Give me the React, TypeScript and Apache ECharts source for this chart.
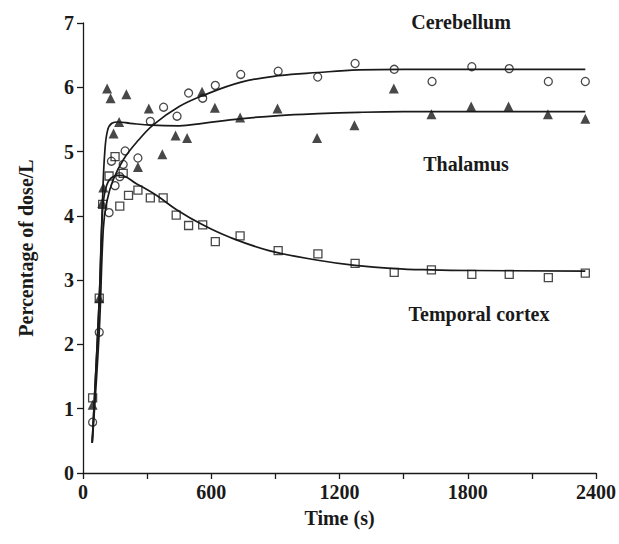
import { useEffect, useRef } from "react";
import * as echarts from "echarts";

// Measured points: [time (s), percentage of dose/L]
const cerebellumPoints: [number, number][] = [
  [45, 0.79], [76, 2.19], [122, 4.05], [133, 4.85], [150, 4.47], [172, 4.61],
  [188, 4.8], [197, 5.01], [257, 4.9], [315, 5.47], [377, 5.69], [440, 5.55],
  [494, 5.91], [560, 5.83], [619, 6.03], [738, 6.2], [913, 6.25], [1098, 6.16],
  [1273, 6.37], [1456, 6.28], [1633, 6.09], [1819, 6.32], [1994, 6.29],
  [2177, 6.09], [2350, 6.09],
];

const thalamusPoints: [number, number][] = [
  [45, 1.06], [76, 2.72], [90, 4.2], [95, 4.44], [113, 5.98], [129, 5.83],
  [143, 5.28], [169, 5.46], [203, 5.89], [257, 4.76], [308, 5.67], [371, 4.96],
  [433, 5.25], [487, 5.21], [557, 5.93], [617, 5.68], [735, 5.53], [910, 5.67],
  [1095, 5.21], [1270, 5.41], [1454, 5.98], [1630, 5.58], [1816, 5.7],
  [1991, 5.7], [2175, 5.58], [2350, 5.51],
];

const temporalPoints: [number, number][] = [
  [45, 1.17], [76, 2.72], [92, 4.18], [122, 4.62], [150, 4.92], [172, 4.15],
  [188, 4.66], [213, 4.32], [257, 4.4], [315, 4.28], [375, 4.28], [436, 4.01],
  [494, 3.85], [560, 3.86], [619, 3.6], [735, 3.69], [913, 3.46], [1099, 3.41],
  [1273, 3.26], [1456, 3.12], [1630, 3.16], [1819, 3.09], [1994, 3.09],
  [2177, 3.04], [2350, 3.11],
];

// Fitted model curves
const cerebellumFit: [number, number][] = [
  [43, 0.47], [76, 2.2], [95, 3.8], [110, 4.2], [140, 4.55], [190, 4.88],
  [260, 5.18], [330, 5.42], [450, 5.7], [560, 5.87], [740, 6.08], [916, 6.18],
  [1100, 6.23], [1290, 6.27], [1500, 6.28], [2350, 6.28],
];

const thalamusFit: [number, number][] = [
  [43, 0.47], [76, 2.7], [92, 4.3], [102, 5.0], [115, 5.33], [135, 5.44],
  [165, 5.46], [220, 5.44], [320, 5.41], [450, 5.4], [560, 5.44], [735, 5.51],
  [916, 5.56], [1100, 5.59], [1290, 5.61], [1500, 5.62], [2350, 5.62],
];

const temporalFit: [number, number][] = [
  [43, 0.47], [76, 2.7], [92, 4.1], [110, 4.47], [140, 4.61], [175, 4.63],
  [250, 4.5], [343, 4.32], [436, 4.1], [560, 3.86], [684, 3.67], [870, 3.46],
  [1099, 3.31], [1273, 3.23], [1456, 3.18], [1630, 3.16], [1819, 3.15],
  [2350, 3.14],
];

const regionLabels = ["Cerebellum", "Thalamus", "Temporal cortex"];

const INK = "#1a1a1a";
const SERIF = "'Liberation Serif', 'Times New Roman', serif";

function fitLine(data: [number, number][]) {
  return {
    type: "line" as const,
    data,
    symbol: "none",
    smooth: 0.4,
    lineStyle: { color: INK, width: 1.7 },
    z: 2,
  };
}

function points(data: [number, number][], symbol: string, filled: boolean, size: number) {
  return {
    type: "scatter" as const,
    data,
    symbol,
    symbolSize: size,
    itemStyle: filled
      ? { color: INK, borderWidth: 0 }
      : { color: "rgba(0,0,0,0)", borderColor: INK, borderWidth: 1.3 },
    z: 3,
  };
}

export default function App() {
  const ref = useRef<HTMLDivElement>(null);

  useEffect(() => {
    document.body.style.margin = "0";
    const chart = echarts.init(ref.current!, null, { renderer: "svg" });
    const textStyle = { fontFamily: SERIF, fontWeight: "bold" as const, fontSize: 20, color: INK };
    chart.setOption({
      animation: false,
      backgroundColor: "#fff",
      grid: { left: 83, right: 20, top: 23, bottom: 71 },
      xAxis: {
        type: "value",
        min: 0,
        max: 2400,
        interval: 300,
        name: "Time (s)",
        nameLocation: "middle",
        nameGap: 35,
        nameTextStyle: textStyle,
        axisLine: { show: true, lineStyle: { color: INK, width: 1.3 } },
        axisTick: { show: true, inside: false, length: 6, lineStyle: { color: INK, width: 1.3 } },
        axisLabel: {
          ...textStyle,
          margin: 9,
          formatter: (v: number) => (v % 600 === 0 ? String(v) : ""),
        },
        splitLine: { show: false },
      },
      yAxis: {
        type: "value",
        min: 0,
        max: 7,
        interval: 1,
        name: "Percentage of dose/L",
        nameLocation: "middle",
        nameGap: 47,
        nameRotate: 90,
        nameTextStyle: textStyle,
        axisLine: { show: true, lineStyle: { color: INK, width: 1.3 } },
        axisTick: { show: true, inside: false, length: 6, lineStyle: { color: INK, width: 1.3 } },
        axisLabel: { ...textStyle, margin: 9 },
        splitLine: { show: false },
      },
      series: [
        fitLine(cerebellumFit),
        fitLine(thalamusFit),
        fitLine(temporalFit),
        points(cerebellumPoints, "circle", false, 8),
        points(thalamusPoints, "triangle", true, 10),
        points(temporalPoints, "rect", false, 8),
      ],
      graphic: [
        { type: "text", x: 461, y: 22, style: { text: regionLabels[0], ...textStyle, align: "center", verticalAlign: "middle", fill: INK } },
        { type: "text", x: 466, y: 164, style: { text: regionLabels[1], ...textStyle, align: "center", verticalAlign: "middle", fill: INK } },
        { type: "text", x: 479, y: 314, style: { text: regionLabels[2], ...textStyle, align: "center", verticalAlign: "middle", fill: INK } },
      ],
    });
    return () => chart.dispose();
  }, []);

  return <div ref={ref} style={{ width: 619, height: 544 }} />;
}
